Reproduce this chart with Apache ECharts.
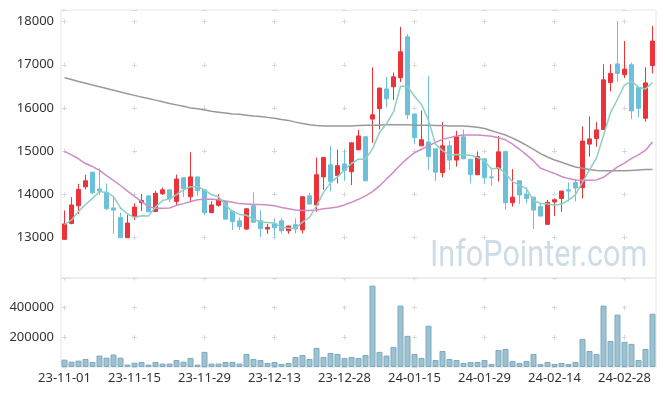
<!DOCTYPE html>
<html><head><meta charset="utf-8">
<script src="https://cdn.jsdelivr.net/npm/echarts@6/dist/echarts.min.js"></script>
<style>html,body{margin:0;padding:0;background:#fff}#c{width:665px;height:396px}</style>
</head><body><div id="c"></div>
<script>
const dates = [
'23-11-01','23-11-02','23-11-03','23-11-06','23-11-07','23-11-08','23-11-09','23-11-10','23-11-13','23-11-14','23-11-15','23-11-16','23-11-17','23-11-20','23-11-21','23-11-22','23-11-23','23-11-24','23-11-27','23-11-28','23-11-29','23-11-30',
'23-12-01','23-12-04','23-12-05','23-12-06','23-12-07','23-12-08','23-12-11','23-12-12','23-12-13','23-12-14','23-12-15','23-12-18','23-12-19','23-12-20','23-12-21','23-12-22','23-12-26','23-12-27','23-12-28',
'24-01-02','24-01-03','24-01-04','24-01-05','24-01-08','24-01-09','24-01-10','24-01-11','24-01-12','24-01-15','24-01-16','24-01-17','24-01-18','24-01-19','24-01-22','24-01-23','24-01-24','24-01-25','24-01-26','24-01-29','24-01-30','24-01-31',
'24-02-01','24-02-02','24-02-05','24-02-06','24-02-07','24-02-08','24-02-13','24-02-14','24-02-15','24-02-16','24-02-19','24-02-20','24-02-21','24-02-22','24-02-23','24-02-26','24-02-27','24-02-28','24-02-29',
'24-03-04','24-03-05','24-03-06'];

const opens = [12950,13320,13730,14170,14510,14120,14040,13680,13460,12990, 13470,13800,13960,13600,14010,14100,13830,14380,13940,14400, 14100,13570,13740,13830,13610,13380,13190,13730,13380,13190, 13310,13380,13150,13290,13170,13960,13750,14400,14680,14430, 14700,14520,15030,15330,15740,15980,16440,16490,16700,17650, 15860,15120,15210,15050,14500,15120,14790,15330,14810,14450, 14820,14400,14590,14990,13800,14310,14000,13930,13710,13300, 13820,13900,14100,14270,14150,15160,15290,15500,16590,17020, 16770,17000,16470,15760,16980];
const closes = [13310,13750,14110,14310,14030,14070,13660,13630,12990,13330, 13700,13850,13590,14020,14100,13890,14350,14130,14400,14080, 13570,13750,13880,13420,13360,13250,13660,13350,13200,13230, 13220,13150,13260,13190,13940,13770,14450,14850,14290,14660, 14550,15190,15350,14310,15840,16460,16210,16720,17300,15840, 15310,15260,14870,14510,15120,14790,15330,14820,14450,14870, 14380,14380,14980,13800,13930,13980,13900,13630,13490,13810, 13870,14070,14070,14140,15230,15280,15490,16650,16800,16800, 16900,15930,15990,16580,17550];
const lows = [12940,13300,13540,14110,14000,13980,13630,13080,12990,12990, 13400,13610,13590,13600,13980,13820,13750,13930,13810,13960, 13510,13570,13710,13420,13170,13170,13170,13340,13010,13080, 13000,13090,13080,13090,13090,13760,13590,14100,14060,14250, 14310,14210,15020,14300,15190,15500,16010,16180,16600,15740, 15160,15120,14560,14310,14390,14560,14640,14810,14250,14440, 14240,14190,14290,13650,13710,13770,13790,13190,13490,13300, 13490,13590,13830,13830,13900,14870,15100,15500,16380,16610, 16690,15740,15780,15680,16800];
const highs = [13620,13930,14240,14450,14520,14600,14250,13940,13570,13520, 13790,14000,13960,14080,14150,14100,14450,14380,14970,14400, 14100,13830,14000,13830,13610,13460,13670,14040,13630,13310, 13440,13440,13270,13440,13950,14030,14850,14850,15120,15030, 15030,15200,15490,15340,16940,16470,16720,16820,17880,17710, 15870,15940,16740,15050,15670,15240,15470,15500,14810,14990, 14820,14620,15350,14990,14580,14310,14160,13930,13790,13870, 13900,14070,14270,14350,15570,15800,15670,17010,17010,18010, 17550,17050,16470,16940,17900];

const volumes = [49700,36000,43000,54000,34000,77000,63000,84000,63000,16000, 29000,34000,16000,34000,23000,23000,47000,36000,61000,16000, 102000,23000,23000,34000,34000,23000,88000,54000,47000,27000, 34000,20000,27000,68000,81000,54000,129000,68000,95000,88000, 61000,68000,61000,81000,549000,102000,77000,136000,414000,210000, 88000,61000,278000,47000,108000,54000,47000,27000,34000,34000, 47000,20000,115000,122000,41000,27000,41000,88000,20000,34000, 20000,27000,20000,34000,190000,108000,88000,414000,176000,353000, 170000,156000,47000,122000,359000];

const ma5 = [13290,13400,13600,13760,13900,14060,14040,13940,13680,13540, 13460,13500,13490,13700,13850,13890,13990,14100,14170,14170, 14100,13990,13940,13740,13600,13530,13510,13410,13360,13340, 13330,13230,13210,13210,13350,13460,13720,14040,14260,14400, 14560,14710,14810,14810,15050,15430,15630,15910,16500,16500, 16270,16080,15710,15160,15010,14910,14920,14910,14900,14850, 14770,14580,14610,14480,14290,14210,14120,13850,13790,13770, 13740,13770,13860,13990,14280,14560,14840,15360,15890,16200, 16530,16620,16480,16440,16590];
const ma20 = [14990,14910,14820,14710,14640,14550,14430,14320,14200,14070, 13950,13830,13710,13670,13670,13680,13740,13780,13830,13870, 13880,13880,13870,13840,13810,13780,13770,13760,13760,13750, 13730,13690,13660,13630,13620,13620,13630,13660,13680,13700, 13750,13810,13880,13960,14060,14190,14350,14510,14680,14830, 14960,15040,15120,15200,15270,15310,15350,15370,15370,15370, 15360,15340,15310,15260,15160,15040,14910,14770,14600,14540, 14480,14410,14360,14330,14320,14320,14330,14390,14510,14630, 14720,14830,14910,15020,15210];
const ma120 = [16700,16660,16610,16570,16530,16490,16450,16410,16370,16330, 16290,16250,16220,16180,16140,16100,16070,16040,16000,15980, 15950,15920,15900,15880,15860,15850,15830,15810,15800,15780, 15760,15730,15710,15670,15640,15610,15590,15580,15580,15580, 15580,15580,15590,15600,15600,15600,15610,15610,15610,15610, 15600,15600,15600,15590,15590,15580,15580,15580,15570,15550, 15520,15470,15420,15370,15300,15220,15130,15040,14940,14860, 14790,14740,14680,14630,14600,14570,14550,14540,14540,14540, 14540,14550,14560,14570,14570];

const watermark = 'InfoPointer.com';

const candleData = dates.map((d, i) => [opens[i], closes[i], lows[i], highs[i]]);
const FONT = 'Noto Sans';
const cross = '#d9d9d9';
const plain = v => String(v);

const chart = echarts.init(document.getElementById('c'), null, {renderer: 'canvas'});
chart.setOption({
  animation: false,
  backgroundColor: '#ffffff',
  grid: [
    {left: 61, right: 9, top: 10, height: 268, show: true, borderColor: '#e6e6e6', borderWidth: 1, backgroundColor: 'transparent'},
    {left: 61, right: 9, top: 278, height: 89, show: true, borderColor: '#e6e6e6', borderWidth: 1, backgroundColor: 'transparent'}
  ],
  xAxis: [
    {type: 'category', data: dates, gridIndex: 0, boundaryGap: true,
     axisLine: {show: false}, axisTick: {show: false}, axisLabel: {show: false},
     splitLine: {show: true, interval: 9, alignWithLabel: true,
       lineStyle: {color: cross, width: 1, type: [5, 38.12], dashOffset: 33.92}}},
    {type: 'category', data: dates, gridIndex: 1, boundaryGap: true,
     axisLine: {show: false}, axisTick: {show: false},
     axisLabel: {interval: 9, color: '#333', fontSize: 13, fontFamily: FONT, margin: 5},
     splitLine: {show: true, interval: 9, alignWithLabel: true,
       lineStyle: {color: cross, width: 1, type: [5, 24.67], dashOffset: 2.5}}}
  ],
  yAxis: [
    {type: 'value', gridIndex: 0, min: 12055, max: 18270, scale: true,
     axisLine: {show: false}, axisTick: {show: false},
     axisLabel: {color: '#333', fontSize: 13, fontFamily: FONT, margin: 7, showMinLabel: false, showMaxLabel: false, formatter: plain},
     splitLine: {show: true, lineStyle: {color: cross, width: 1, type: [5, 65], dashOffset: 69}}},
    {type: 'value', gridIndex: 1, min: 0, max: 600000, interval: 200000,
     axisLine: {show: false}, axisTick: {show: false},
     axisLabel: {color: '#333', fontSize: 13, fontFamily: FONT, margin: 7, showMinLabel: false, showMaxLabel: false, formatter: plain},
     splitLine: {show: true, lineStyle: {color: cross, width: 1, type: [5, 65], dashOffset: 69}}}
  ],
  graphic: [
    {type: 'text', x: 430, y: 239, scaleX: 0.85, scaleY: 1, z: 0, silent: true,
     style: {text: watermark, x: 0, y: 0, textAlign: 'left', fill: '#cddce6', font: '36px Roboto'}}
  ],
  series: [
    {type: 'candlestick', name: 'price', xAxisIndex: 0, yAxisIndex: 0, data: candleData, barWidth: 5, z: 2,
     itemStyle: {color: '#eb3339', color0: '#6cc0d9', borderColor: '#eb3339', borderColor0: '#6cc0d9', borderWidth: 1}},
    {type: 'line', name: 'MA120', xAxisIndex: 0, yAxisIndex: 0, data: ma120, symbol: 'none', z: 3,
     lineStyle: {color: '#999999', width: 1.5}},
    {type: 'line', name: 'MA20', xAxisIndex: 0, yAxisIndex: 0, data: ma20, symbol: 'none', z: 3,
     lineStyle: {color: '#cc8cc6', width: 1.5}},
    {type: 'line', name: 'MA5', xAxisIndex: 0, yAxisIndex: 0, data: ma5, symbol: 'none', z: 3,
     lineStyle: {color: '#8ccfc2', width: 1.5}},
    {type: 'bar', name: 'volume', xAxisIndex: 1, yAxisIndex: 1, data: volumes, barWidth: 6,
     itemStyle: {color: '#9cc2d2', borderColor: '#7eaabd', borderWidth: 1}}
  ]
});
</script>
</body></html>
